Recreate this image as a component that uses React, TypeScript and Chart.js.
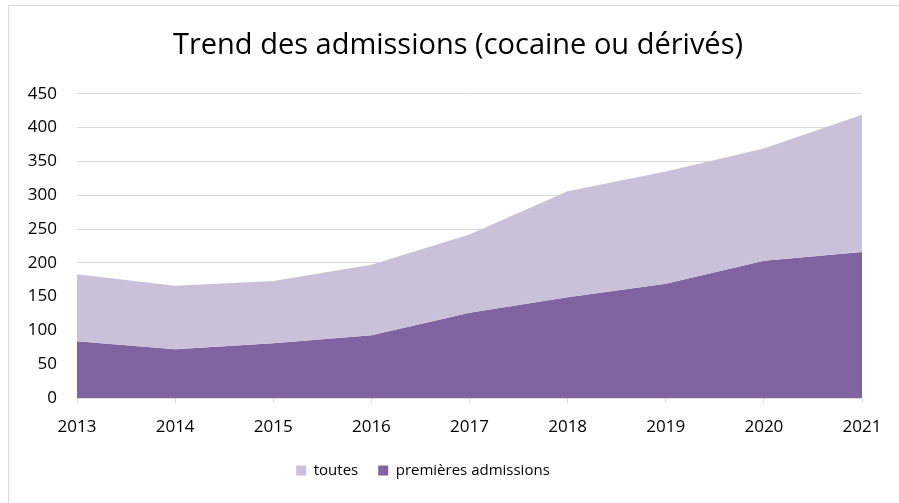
import React, { useEffect, useRef } from "react";
import { Chart, registerables } from "chart.js";

Chart.register(...registerables);

const years = ["2013", "2014", "2015", "2016", "2017", "2018", "2019", "2020", "2021"];
const toutes = [183, 166, 173, 197, 242, 306, 335, 369, 419];
const premieres = [84, 72, 81, 93, 126, 149, 169, 203, 216];
const titleText = "Trend des admissions (cocaine ou dérivés)";
const seriesNames = ["toutes", "premières admissions"];

const FONT = "'Open Sans', sans-serif";

const centerPlugin = {
  id: "centerBoxes",
  afterLayout(chart: any) {
    const t = chart.titleBlock;
    if (t) {
      const dx = 449 - (t.left + t.right) / 2;
      t.left += dx;
      t.right += dx;
    }
    const l = chart.legend;
    if (l) {
      const dx = 414 - (l.left + l.right) / 2;
      l.left += dx;
      l.right += dx;
    }
  },
};

export default function App() {
  const ref = useRef<HTMLCanvasElement | null>(null);

  useEffect(() => {
    document.documentElement.style.overflow = "hidden";
    document.body.style.overflow = "hidden";
    const ctx = ref.current!;
    const chart = new Chart(ctx, {
      type: "line",
      data: {
        labels: years,
        datasets: [
          {
            label: seriesNames[0],
            data: toutes,
            backgroundColor: "#CBC0DA",
            borderColor: "#CBC0DA",
            borderWidth: 0,
            pointRadius: 0,
            fill: "+1",
            tension: 0,
          },
          {
            label: seriesNames[1],
            data: premieres,
            backgroundColor: "#8064A2",
            borderColor: "#8064A2",
            borderWidth: 0,
            pointRadius: 0,
            fill: "origin",
            tension: 0,
          },
        ],
      },
      plugins: [centerPlugin],
      options: {
        animation: false,
        responsive: false,
        maintainAspectRatio: false,
        layout: { padding: { left: 0, right: 37, top: 0, bottom: 15 } },
        plugins: {
          tooltip: { enabled: false },
          title: {
            display: true,
            text: titleText,
            color: "#000",
            font: { family: FONT, size: 29, weight: "normal", lineHeight: 1.2 },
            padding: { top: 22, bottom: 31 },
          },
          legend: {
            position: "bottom",
            labels: {
              color: "#000",
              font: { family: FONT, size: 15 },
              boxWidth: 10,
              boxHeight: 10,
              padding: 20,
            },
          },
        },
        scales: {
          x: {
            type: "category",
            offset: false,
            grid: {
              drawOnChartArea: false,
              drawTicks: true,
              tickLength: 5,
              color: "#d9d9d9",
            },
            border: { display: true, color: "#d9d9d9" },
            ticks: {
              color: "#000",
              font: { family: FONT, size: 17 },
              padding: 14,
              maxRotation: 0,
              autoSkip: false,
            },
            afterFit: (s: any) => {
              s.height = 45;
            },
          },
          y: {
            min: 0,
            max: 450,
            grid: { color: "#d9d9d9", drawTicks: false },
            border: { display: false },
            ticks: {
              stepSize: 50,
              color: "#000",
              font: { family: FONT, size: 17 },
              padding: 20,
            },
            afterFit: (s: any) => {
              s.width = 68;
            },
          },
        },
      },
    });
    return () => chart.destroy();
  }, []);

  return (
    <div
      style={{
        position: "absolute",
        left: 8,
        top: 5,
        width: 891,
        height: 498,
        borderLeft: "1px solid #d9d9d9",
        borderTop: "1px solid #d9d9d9",
        boxSizing: "border-box",
        background: "#fff",
      }}
    >
      <canvas ref={ref} width={890} height={497} style={{ display: "block" }} />
    </div>
  );
}
